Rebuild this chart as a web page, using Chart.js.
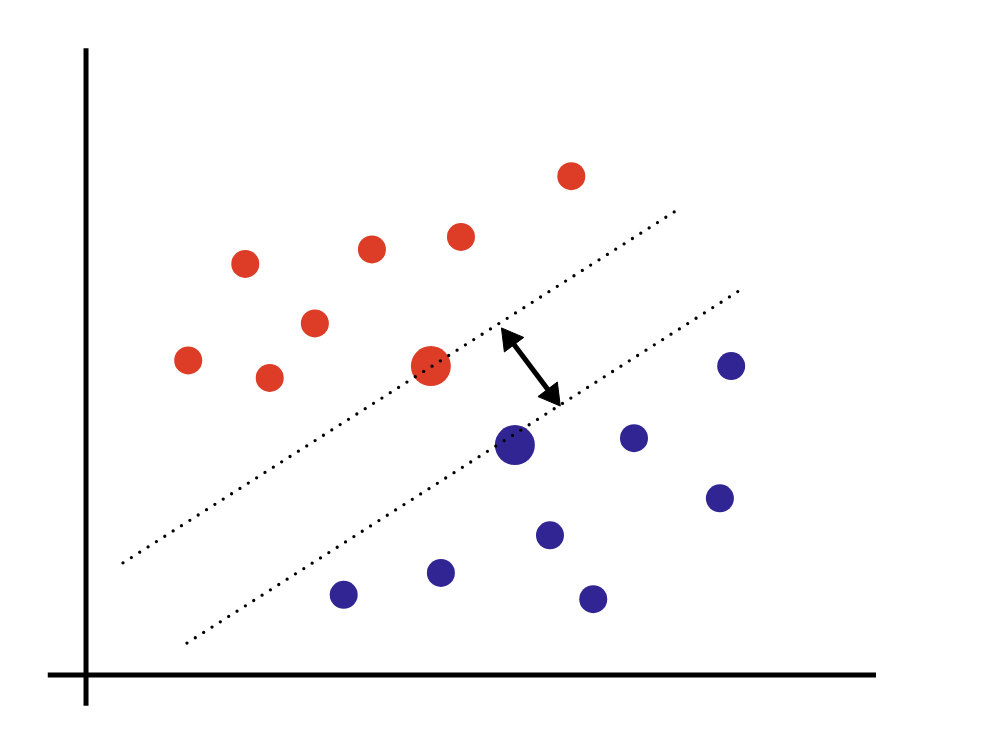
<!DOCTYPE html>
<html>
<head>
<meta charset="utf-8">
<script src="https://cdn.jsdelivr.net/npm/chart.js@4.4.1/dist/chart.umd.min.js"></script>
<style>
  html, body { margin: 0; padding: 0; background: #fff; }
  #svmChart { display: block; }
</style>
</head>
<body>
<canvas id="svmChart" width="992" height="744"></canvas>
<script>
// class A (red) and class B (blue) samples
const redPoints = [
    {x: 7.74, y: 7.96}, {x: 5.98, y: 6.99}, {x: 4.56, y: 6.79}, {x: 2.54, y: 6.56},
    {x: 3.65, y: 5.61}, {x: 1.63, y: 5.02}, {x: 2.93, y: 4.74}
];
const bluePoints = [
    {x: 10.29, y: 4.93}, {x: 8.74, y: 3.78}, {x: 10.11, y: 2.82}, {x: 7.40, y: 2.23},
    {x: 5.66, y: 1.63}, {x: 4.11, y: 1.28}, {x: 8.09, y: 1.21}
];
// support vectors
const redSupport = [{x: 5.50, y: 4.93}];
const blueSupport = [{x: 6.84, y: 3.67}];

// margin lines
const upperMargin = [{x: 0.59, y: 1.79}, {x: 9.43, y: 7.42}];
const lowerMargin = [{x: 1.61, y: 0.51}, {x: 10.43, y: 6.14}];

// double arrow between the margins
const marginArrow = [{x: 6.76, y: 5.36}, {x: 7.43, y: 4.47}];

// hand drawn axes
const xAxisLine = [{x: -0.61, y: 0}, {x: 12.6, y: 0}];
const yAxisLine = [{x: 0, y: -0.49}, {x: 0, y: 10}];

const RED = '#dd3c27';
const BLUE = '#312593';

function arrowRotation(ctx) {
    const chart = ctx.chart;
    const sx = chart.scales.x, sy = chart.scales.y;
    const i = ctx.dataIndex;
    const j = i === 0 ? 1 : 0;
    const a = marginArrow[i], b = marginArrow[j];
    const dx = sx.getPixelForValue(a.x) - sx.getPixelForValue(b.x);
    const dy = sy.getPixelForValue(a.y) - sy.getPixelForValue(b.y);
    return Math.atan2(dx, -dy) * 180 / Math.PI;
}

const dotted = {
    type: 'line',
    borderColor: '#000',
    borderWidth: 3.3,
    borderCapStyle: 'round',
    borderDash: [0, 9.9],
    pointRadius: 0,
    fill: false
};

const ctx = document.getElementById('svmChart').getContext('2d');

new Chart(ctx, {
    type: 'scatter',
    data: {
        datasets: [
            Object.assign({label: 'upper margin', data: upperMargin}, dotted),
            Object.assign({label: 'lower margin', data: lowerMargin}, dotted),
            {
                type: 'line',
                label: 'margin',
                data: marginArrow,
                borderColor: '#000',
                borderWidth: 5,
                pointStyle: 'triangle',
                pointRadius: 14,
                pointBackgroundColor: '#000',
                pointBorderColor: '#000',
                pointBorderWidth: 1,
                pointRotation: arrowRotation
            },
            {
                label: 'red support',
                data: redSupport,
                pointRadius: 20,
                backgroundColor: RED,
                borderWidth: 0
            },
            {
                label: 'blue support',
                data: blueSupport,
                pointRadius: 20,
                backgroundColor: BLUE,
                borderWidth: 0
            },
            {
                label: 'red',
                data: redPoints,
                pointRadius: 14,
                backgroundColor: RED,
                borderWidth: 0
            },
            {
                label: 'blue',
                data: bluePoints,
                pointRadius: 14,
                backgroundColor: BLUE,
                borderWidth: 0
            },
            {
                type: 'line',
                label: 'x axis',
                data: xAxisLine,
                borderColor: '#000',
                borderWidth: 5,
                pointRadius: 0
            },
            {
                type: 'line',
                label: 'y axis',
                data: yAxisLine,
                borderColor: '#000',
                borderWidth: 5,
                pointRadius: 0
            }
        ]
    },
    options: {
        responsive: false,
        animation: false,
        layout: { padding: 0, autoPadding: false },
        plugins: {
            legend: { display: false },
            tooltip: { enabled: false }
        },
        scales: {
            x: { type: 'linear', display: false, min: -1.372, max: 14.45 },
            y: { type: 'linear', display: false, min: -1.10, max: 10.77 }
        }
    }
});
</script>
</body>
</html>
